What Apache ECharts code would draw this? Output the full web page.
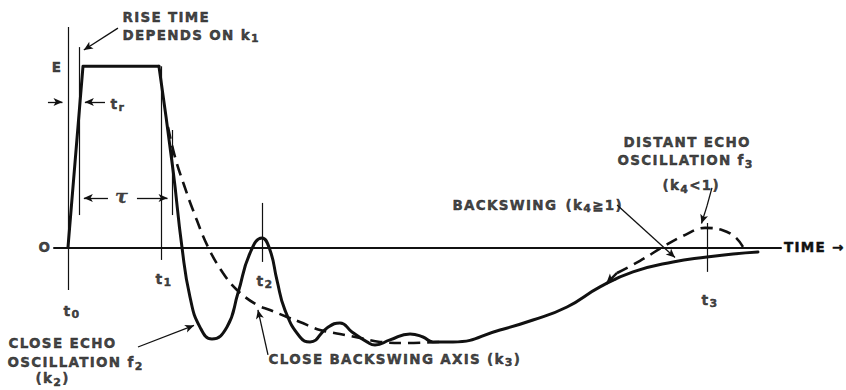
<!DOCTYPE html>
<html>
<head>
<meta charset="utf-8">
<script src="https://cdn.jsdelivr.net/npm/echarts@6/dist/echarts.min.js"></script>
<style>
  html, body { margin: 0; padding: 0; background: #fff; }
  #chart { width: 846px; height: 390px; }
  /* hand-lettered look: widen the lettering a little */
  #chart text { letter-spacing: 1.3px; }
</style>
</head>
<body>
<div id="chart"></div>
<script>
// ---- waveform data: time in units of the pulse length (t1 = 1), amplitude in units of E ----

// Rectangular pulse: rise from t0 up to the flat top E
const pulseTime  = [0, 0.161, 0.976];
const pulseLevel = [0, 1.0, 1.0];

// Trailing edge, close echo oscillation (f2), then the slow backswing recovery
const echoTime  = [0.976, 1.127, 1.223, 1.309, 1.416, 1.545, 1.706, 1.824, 1.953, 2.082, 2.167,
                   2.242, 2.328, 2.489, 2.597, 2.779, 2.918, 3.047, 3.208, 3.294, 3.455, 3.670,
                   3.809, 3.916, 4.131, 4.635, 4.989, 5.354, 5.708, 6.062, 6.491, 6.856, 7.135, 7.403];
const echoLevel = [1.0, 0.427, 0.0, -0.275, -0.441, -0.507, -0.441, -0.253, -0.032, 0.051, -0.015,
                   -0.181, -0.347, -0.496, -0.523, -0.446, -0.418, -0.468, -0.523, -0.540, -0.512, -0.479,
                   -0.496, -0.523, -0.523, -0.457, -0.402, -0.330, -0.219, -0.136, -0.081, -0.054, -0.037, -0.026];

// Close backswing axis (k3)
const axisTime  = [1.073, 1.148, 1.245, 1.341, 1.502, 1.663, 1.813, 2.028, 2.167, 2.350, 2.489,
                   2.704, 2.918, 3.133, 3.348, 3.616, 3.991];
const axisLevel = [0.664, 0.499, 0.344, 0.206, 0.002, -0.142, -0.236, -0.319, -0.347, -0.385, -0.413,
                   -0.457, -0.479, -0.501, -0.523, -0.529, -0.523];

// Distant echo oscillation f3 (k4 < 1)
const distantTime  = [5.891, 6.137, 6.384, 6.599, 6.835, 7.017, 7.157, 7.242];
const distantLevel = [-0.142, -0.075, 0.002, 0.063, 0.107, 0.096, 0.057, 0.002];

// Time marks
const markNames = ['t₀', 't₁', 't₂', 't₃'];
const markTimes = [0, 1.0, 2.08, 6.856];

// ---- layout ----
const INK = '#111111';
const FONT = 'DejaVu Sans';
const LETTER_GAP = 1.3;            // must match the letter-spacing in the stylesheet
const W = 846, H = 390;
const PLOT = { left: 54, right: 65, top: 12, bottom: 7 };
const T_MIN = -0.15, T_MAX = 7.65, A_MIN = -0.75, A_MAX = 1.3;
const tScale = (W - PLOT.left - PLOT.right) / (T_MAX - T_MIN);
const aScale = (H - PLOT.top - PLOT.bottom) / (A_MAX - A_MIN);
// overlay grid spanning the whole canvas with the same scale, for notes and leaders
const NOTE_T = [T_MIN - PLOT.left / tScale, T_MAX + PLOT.right / tScale];
const NOTE_A = [A_MIN - PLOT.bottom / aScale, A_MAX + PLOT.top / aScale];

const zip = (xs, ys) => xs.map((x, i) => [x, ys[i]]);

function seg(from, to, o = {}) {
  const size = o.size || [6, 9];
  return [
    { coord: from, symbol: 'none',
      lineStyle: { curveness: o.curve || 0, width: o.width || 1.3, color: INK, type: o.type || 'solid' } },
    { coord: to, symbol: o.arrow ? 'arrow' : 'none', symbolSize: size }
  ];
}

// vertical time marks and reference lines
const markExtent = [[1.217, -0.236], [1.0, -0.07], [0.245, -0.081], [0.134, -0.136]];
const guideLines = markTimes.map((t, i) => seg([t, markExtent[i][0]], [t, markExtent[i][1]], { width: 1.2 }))
  .concat([
    seg([0.125, 1.106], [0.125, 0.178], { width: 1.2 }),   // end of rise time
    seg([1.116, 0.648], [1.116, 0.178], { width: 1.2 })    // end of pulse width
  ]);

// dimension arrows for t_r and tau
const dimArrows = [
  seg([-0.215, 0.803], [-0.059, 0.803], { arrow: true }),
  seg([0.397, 0.803], [0.181, 0.803], { arrow: true }),
  seg([0.429, 0.272], [0.170, 0.272], { arrow: true }),
  seg([0.740, 0.272], [1.068, 0.272], { arrow: true })
];

// curved leaders from the notes to the curve features
const leaders = [
  seg([0.536, 1.211], [0.170, 1.090], { arrow: true, curve: -0.3 }),
  seg([0.751, -0.551], [1.352, -0.432], { arrow: true, curve: -0.24 }),
  seg([2.146, -0.595], [2.038, -0.346], { arrow: true, curve: 0.32 }),
  seg([5.891, 0.234], [6.513, -0.057], { arrow: true, curve: 0.48 }),
  seg([6.909, 0.328], [6.856, 0.229], { curve: 0.5 }),
  seg([6.856, 0.229], [6.797, 0.131], { arrow: true, curve: -0.2 }),
  seg([5.891, -0.142], [5.774, -0.202], { arrow: true, width: 2.4, size: [7, 10] })
];

// text notes: position in (time, amplitude), anchored at left edge or centre
const notes = [
  { text: 'RISE TIME', at: [0.579, 1.272], align: 'left' },
  { text: 'DEPENDS ON k₁', at: [0.579, 1.173], align: 'left' },
  { text: 'E', at: [-0.118, 0.996] },
  { text: 'O', at: [-0.247, 0] },
  { text: 'tᵣ', at: [0.451, 0.792], align: 'left', size: 14 },
  { text: 'τ', at: [0.579, 0.282], size: 19, family: 'DejaVu Serif', style: 'italic' },
  { text: 'CLOSE ECHO', at: [-0.644, -0.529], align: 'left' },
  { text: 'OSCILLATION f₂', at: [-0.655, -0.634], align: 'left' },
  { text: '(k₂)', at: [-0.354, -0.724], align: 'left' },
  { text: 'CLOSE BACKSWING AXIS (k₃)', at: [2.146, -0.617], align: 'left' },
  { text: 'BACKSWING', at: [4.12, 0.234], align: 'left' },
  { text: '(k₄≧1)', at: [5.332, 0.234], align: 'left' },
  { text: 'DISTANT ECHO', at: [5.955, 0.582], align: 'left' },
  { text: 'OSCILLATION f₃', at: [5.891, 0.482], align: 'left' },
  { text: '(k₄<1)', at: [6.373, 0.344], align: 'left' }
];
const markLabelAt = [[0.043, -0.352], [1.03, -0.175], [2.114, -0.186], [6.888, -0.291]];
markNames.forEach((n, i) => notes.push({ text: n, at: markLabelAt[i], size: 14 }));

// subscripts are set as a smaller, lowered run of rich text
const SUBS = { '₀': '0', '₁': '1', '₂': '2', '₃': '3', '₄': '4', 'ᵣ': 'r' };
const measure = document.createElement('canvas').getContext('2d');
function runWidth(str, size, family, style) {
  measure.font = `${style} bold ${size}px "${family}"`;
  return measure.measureText(str).width + [...str].length * LETTER_GAP;
}

function noteLabel(n) {
  const size = n.size || 13.5, family = n.family || FONT, style = n.style || 'normal';
  const base = { fontSize: size, fontFamily: family, fontStyle: style, fontWeight: 'bold',
                 color: INK, textBorderColor: INK, textBorderWidth: 0.45 };
  const chars = [...n.text];
  const k = chars.findIndex(c => SUBS[c]);
  if (k < 0) return Object.assign({ formatter: '{b}' }, base);
  const head = chars.slice(0, k).join(''), sub = SUBS[chars[k]], tail = chars.slice(k + 1).join('');
  const subSize = Math.round(size * 0.8);
  return Object.assign({
    formatter: `{a|${head}}{s|${sub}}` + (tail ? `{c|${tail}}` : ''),
    rich: {
      a: Object.assign({}, base, { width: runWidth(head, size, family, style) }),
      s: Object.assign({}, base, { fontSize: subSize, padding: [8, 0, 0, 0],
                                   width: runWidth(sub, subSize, family, style) }),
      c: Object.assign({}, base)
    }
  }, base);
}

const noteData = notes.map(n => ({
  value: n.at,
  name: n.text,
  label: Object.assign({
    show: true,
    position: n.align === 'left' ? 'right' : 'inside',
    distance: 0
  }, noteLabel(n))
}));

const hidden = { axisLine: { show: false }, axisTick: { show: false }, axisLabel: { show: false }, splitLine: { show: false } };

const chart = echarts.init(document.getElementById('chart'), null, { renderer: 'svg' });
chart.setOption({
  backgroundColor: '#ffffff',
  animation: false,
  textStyle: { fontFamily: FONT, color: INK },
  grid: [
    { left: PLOT.left, right: PLOT.right, top: PLOT.top, bottom: PLOT.bottom },
    { left: 0, right: 0, top: 0, bottom: 0 }
  ],
  xAxis: [
    { type: 'value', gridIndex: 0, min: T_MIN, max: T_MAX,
      axisLine: { show: true, onZero: true, lineStyle: { color: INK, width: 2 } },
      axisTick: { show: false }, axisLabel: { show: false }, splitLine: { show: false },
      name: 'TIME →', nameLocation: 'end', nameGap: 3,
      nameTextStyle: { fontFamily: FONT, fontWeight: 'bold', fontSize: 13.5, color: INK,
                       textBorderColor: INK, textBorderWidth: 0.45, verticalAlign: 'middle' } },
    Object.assign({ type: 'value', gridIndex: 1, min: NOTE_T[0], max: NOTE_T[1] }, hidden)
  ],
  yAxis: [
    Object.assign({ type: 'value', gridIndex: 0, min: A_MIN, max: A_MAX }, hidden),
    Object.assign({ type: 'value', gridIndex: 1, min: NOTE_A[0], max: NOTE_A[1] }, hidden)
  ],
  series: [
    { name: 'pulse', type: 'line', xAxisIndex: 0, yAxisIndex: 0, data: zip(pulseTime, pulseLevel),
      showSymbol: false, symbol: 'none', smooth: false,
      lineStyle: { color: INK, width: 3, join: 'round', cap: 'round' } },
    { name: 'echo', type: 'line', xAxisIndex: 0, yAxisIndex: 0, data: zip(echoTime, echoLevel),
      showSymbol: false, symbol: 'none', smooth: 0.5,
      lineStyle: { color: INK, width: 3, join: 'round', cap: 'round' } },
    { name: 'backswing axis', type: 'line', xAxisIndex: 0, yAxisIndex: 0, data: zip(axisTime, axisLevel),
      showSymbol: false, symbol: 'none', smooth: 0.4,
      lineStyle: { color: INK, width: 2.6, type: [12, 7] } },
    { name: 'distant echo', type: 'line', xAxisIndex: 0, yAxisIndex: 0, data: zip(distantTime, distantLevel),
      showSymbol: false, symbol: 'none', smooth: 0.4,
      lineStyle: { color: INK, width: 2.6, type: [12, 7] } },
    { name: 'guides', type: 'line', xAxisIndex: 1, yAxisIndex: 1, data: [], clip: false, silent: true,
      markLine: { silent: true, symbol: 'none', label: { show: false }, animation: false,
        data: guideLines.concat(dimArrows, leaders) } },
    { name: 'notes', type: 'scatter', xAxisIndex: 1, yAxisIndex: 1, clip: false, silent: true,
      symbolSize: 1, itemStyle: { color: 'rgba(0,0,0,0)' }, data: noteData }
  ]
});
</script>
</body>
</html>
